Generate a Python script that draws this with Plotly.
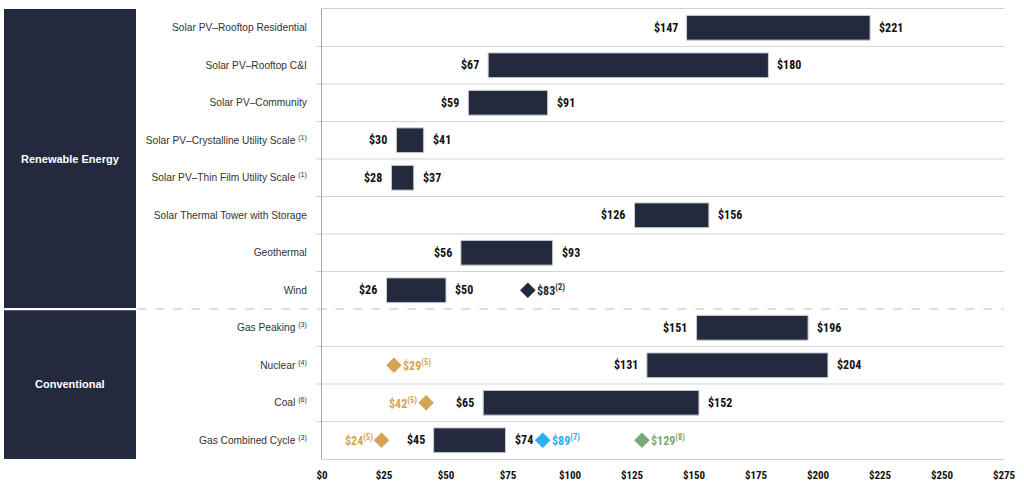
import plotly.graph_objects as go

# ---------------- data ----------------
categories = [
    "Solar PV–Rooftop Residential",
    "Solar PV–Rooftop C&I",
    "Solar PV–Community",
    "Solar PV–Crystalline Utility Scale",
    "Solar PV–Thin Film Utility Scale",
    "Solar Thermal Tower with Storage",
    "Geothermal",
    "Wind",
    "Gas Peaking",
    "Nuclear",
    "Coal",
    "Gas Combined Cycle",
]
category_notes = ["", "", "", "(1)", "(1)", "", "", "", "(3)", "(4)", "(6)", "(3)"]
low_values = [147, 67, 59, 30, 28, 126, 56, 26, 151, 131, 65, 45]
high_values = [221, 180, 91, 41, 37, 156, 93, 50, 196, 204, 152, 74]

groups = ["Renewable Energy", "Conventional"]
group_sizes = [8, 4]

marker_categories = ["Wind", "Nuclear", "Coal", "Gas Combined Cycle", "Gas Combined Cycle", "Gas Combined Cycle"]
marker_values = [83, 29, 42, 24, 89, 129]
marker_notes = ["(2)", "(5)", "(5)", "(5)", "(7)", "(8)"]
marker_colors = ["#242A3D", "#D4A455", "#D4A455", "#D4A455", "#2BAEF2", "#7BA877"]
marker_label_sides = ["right", "right", "left", "left", "right", "right"]

x_ticks = [0, 25, 50, 75, 100, 125, 150, 175, 200, 225, 250, 275]

# ---------------- styling ----------------
NAVY = "#242A3D"
NARROW = "Liberation Sans Narrow, Arial Narrow, Roboto Condensed, DejaVu Sans Condensed, sans-serif"
ARIAL = "Liberation Sans, Arial, sans-serif"

fig = go.Figure()

fig.add_trace(go.Bar(
    y=categories,
    x=[h - l for l, h in zip(low_values, high_values)],
    base=low_values,
    orientation="h",
    width=0.66,
    marker=dict(color=NAVY, line=dict(color="#C9CBD1", width=1)),
    hoverinfo="skip",
    showlegend=False,
))

fig.add_trace(go.Scatter(
    y=marker_categories,
    x=marker_values,
    mode="markers",
    marker=dict(symbol="diamond", size=12, color=marker_colors, line=dict(width=0)),
    hoverinfo="skip",
    showlegend=False,
))

annotations = []
for cat, lo, hi in zip(categories, low_values, high_values):
    annotations.append(dict(x=lo, y=cat, xref="x", yref="y", text=f"${lo}", showarrow=False,
                            xanchor="right", xshift=-7,
                            font=dict(family=NARROW, size=12, color="#111111", weight="bold")))
    annotations.append(dict(x=hi, y=cat, xref="x", yref="y", text=f"${hi}", showarrow=False,
                            xanchor="left", xshift=7,
                            font=dict(family=NARROW, size=12, color="#111111", weight="bold")))

for cat, v, note, col, side in zip(marker_categories, marker_values, marker_notes, marker_colors, marker_label_sides):
    annotations.append(dict(x=v, y=cat, xref="x", yref="y",
                            text=f"${v}<sup>{note}</sup>", showarrow=False,
                            xanchor="left" if side == "right" else "right",
                            xshift=7 if side == "right" else -7,
                            font=dict(family=NARROW, size=12, color=col, weight="bold")))

# group boxes
shapes = []
start = 0
box_x0, box_x1 = (4 - 322) / 682, (136 - 322) / 682
for gi, (g, n) in enumerate(zip(groups, group_sizes)):
    y0 = start - 0.5 - (0.08 if gi == 0 else -0.03)
    y1 = start + n - 0.5 - (0.03 if gi == 0 else 0)
    shapes.append(dict(type="rect", xref="paper", yref="y", x0=box_x0, x1=box_x1,
                       y0=y0, y1=y1, fillcolor=NAVY, line=dict(width=0), layer="above"))
    annotations.append(dict(xref="paper", yref="y", x=(box_x0 + box_x1) / 2, xanchor="center",
                            y=start + (n - 1) / 2, yanchor="middle", text=g, showarrow=False,
                            font=dict(family=ARIAL, size=11, color="white", weight="bold")))
    start += n

# row dividers
for k in range(len(categories) - 1):
    b = k + 0.5
    if b == group_sizes[0] - 0.5:
        shapes.append(dict(type="line", xref="paper", yref="y", x0=box_x1 + 0.002, x1=1, y0=b, y1=b,
                           line=dict(color="#BDBDBD", width=1.2, dash="dash"), layer="below"))
    else:
        shapes.append(dict(type="line", xref="paper", yref="y", x0=-0.009, x1=1, y0=b, y1=b,
                           line=dict(color="#D4D4D4", width=1.2), layer="below"))

fig.update_layout(
    width=1024, height=483,
    margin=dict(l=322, r=20, t=9, b=24),
    paper_bgcolor="white", plot_bgcolor="white",
    barmode="overlay",
    shapes=shapes,
    annotations=annotations,
    showlegend=False,
)

fig.update_xaxes(
    range=[0, 275], tickvals=x_ticks, ticktext=[f"${t}" for t in x_ticks],
    showgrid=False, zeroline=False,
    showline=True, mirror=True, linecolor="#CFCFCF", linewidth=1.2,
    ticks="", ticklabelstandoff=6, automargin=False,
    tickfont=dict(family=NARROW, size=11, color="#111111", weight="bold"),
    fixedrange=True,
)
fig.update_yaxes(
    type="category", categoryorder="array", categoryarray=categories,
    range=[len(categories) - 0.5, -0.5],
    tickvals=categories,
    ticktext=[c + (f" <sup>{n}</sup>" if n else "") for c, n in zip(categories, category_notes)],
    showgrid=False, zeroline=False,
    showline=True, linecolor="#A8A8A8", linewidth=1.2,
    ticks="", ticklabelstandoff=12, automargin=False,
    tickfont=dict(family=ARIAL, size=10.2, color="#333333"),
    fixedrange=True,
)

fig.write_html("out.html", config={"displayModeBar": False},
               post_script="document.body.style.margin='0';")
